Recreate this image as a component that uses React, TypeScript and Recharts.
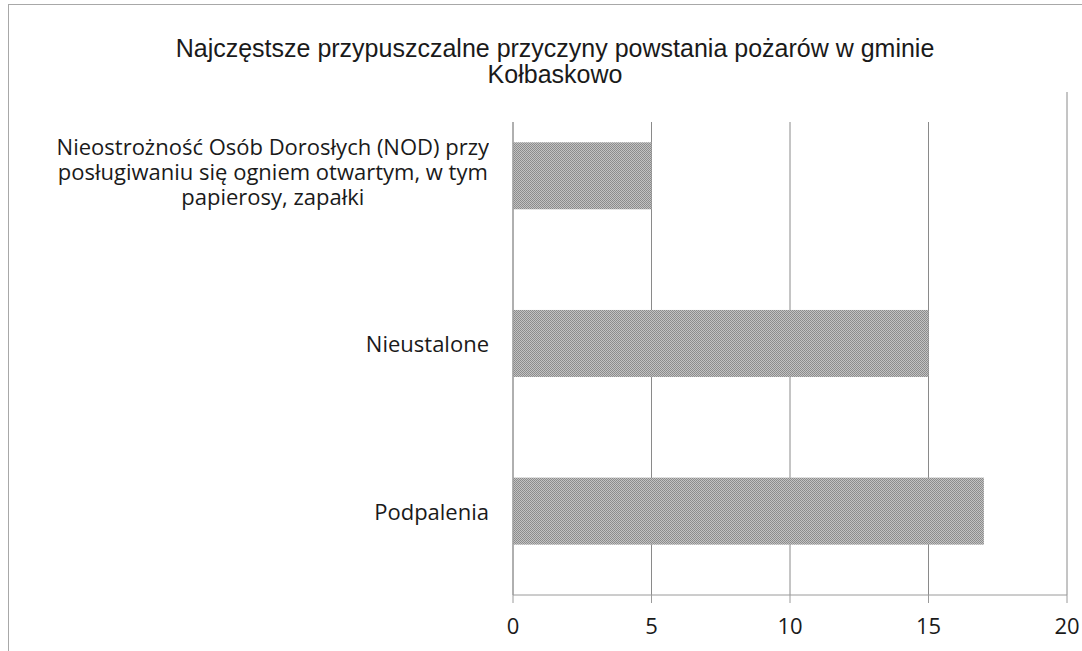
import React from 'react';
import { BarChart, Bar, XAxis, YAxis, CartesianGrid } from 'recharts';

// categories, top to bottom as shown
const causes = [
    'Nieostrożność Osób Dorosłych (NOD) przy\nposługiwaniu się ogniem otwartym, w tym\npapierosy, zapałki',
    'Nieustalone',
    'Podpalenia',
];
const counts = [5, 15, 17];
const xTicks = [0, 5, 10, 15, 20];
const bandEdges = [0, 1, 2];

const title = ['Najczęstsze przypuszczalne  przyczyny powstania pożarów w gminie', 'Kołbaskowo'];

const data = causes.map((name, i) => ({ name, value: counts[i] }));

const LABEL_FONT = '"Open Sans", sans-serif';

// multi-line labels are centred inside a block that is right-aligned to the axis
const CauseTick = (props: any) => {
    const { x, y, payload } = props;
    const lines = String(payload.value).split('\n');
    const boxW = 500;
    const boxH = 120;
    const shift = (lines.length - 1) * -2.25;
    return (
        <foreignObject x={x - 16 - boxW} y={y - boxH / 2 + shift} width={boxW} height={boxH}>
            <div
                style={{
                    width: boxW, height: boxH, display: 'flex',
                    alignItems: 'center', justifyContent: 'flex-end',
                }}
            >
                <div
                    style={{
                        textAlign: 'center', fontFamily: LABEL_FONT, fontSize: 22,
                        lineHeight: '25px', color: '#1a1a1a', whiteSpace: 'nowrap',
                    }}
                >
                    {lines.map((l, i) => <div key={i}>{l}</div>)}
                </div>
            </div>
        </foreignObject>
    );
};

const TexturedBar = (props: any) => {
    const { x, y, width, height } = props;
    return (
        <g>
            <defs>
                <pattern id="dither" width="2" height="2" patternUnits="userSpaceOnUse">
                    <rect width="2" height="2" fill="#c2c2c2" />
                    <rect width="1" height="1" fill="#8a8a8a" />
                    <rect x="1" y="1" width="1" height="1" fill="#8e8e8e" />
                </pattern>
            </defs>
            <rect x={x} y={y} width={width} height={height} fill="url(#dither)" />
        </g>
    );
};

export default function App() {
    return (
        <div style={{ position: 'absolute', left: 0, top: 0, width: 1082, height: 651, background: '#fff', overflow: 'hidden' }}>
            <div
                style={{
                    position: 'absolute', left: 8, top: 4, right: 0, bottom: 0,
                    borderLeft: '1px solid #a8a8a8', borderTop: '1px solid #a8a8a8',
                }}
            />
            <BarChart
                width={1082}
                height={651}
                data={data}
                layout="vertical"
                margin={{ top: 92, right: 15, bottom: 0, left: 0 }}
                barCategoryGap="30%"
                style={{ position: 'absolute', left: 0, top: 0 }}
            >
                <CartesianGrid horizontal={false} vertical stroke="#8a8a8a" />
                <XAxis
                    type="number"
                    domain={[0, 20]}
                    ticks={xTicks}
                    interval={0}
                    height={56}
                    stroke="#9a9a9a"
                    tickSize={8}
                    tick={{ fill: '#1a1a1a', fontFamily: LABEL_FONT, fontSize: 22 }}
                    tickMargin={15}
                />
                <YAxis
                    type="category"
                    dataKey="name"
                    width={513}
                    stroke="#9a9a9a"
                    tickLine={false}
                    tick={<CauseTick />}
                    interval={0}
                />
                <YAxis
                    yAxisId="bands"
                    type="number"
                    domain={[0, 3]}
                    ticks={bandEdges}
                    width={0}
                    axisLine={false}
                    tick={false}
                    tickSize={7}
                    stroke="#9a9a9a"
                />
                <Bar dataKey="value" shape={<TexturedBar />} isAnimationActive={false} />
            </BarChart>
            <div
                style={{
                    position: 'absolute', left: 100, top: 20, width: 910, height: 102,
                    background: '#fff', textAlign: 'center',
                    fontFamily: '"Liberation Sans", Arial, sans-serif', fontSize: 25, lineHeight: '26px',
                    color: '#1a1a1a', paddingTop: 15, boxSizing: 'border-box',
                }}
            >
                <div>{title[0]}</div>
                <div>{title[1]}</div>
            </div>
        </div>
    );
}
